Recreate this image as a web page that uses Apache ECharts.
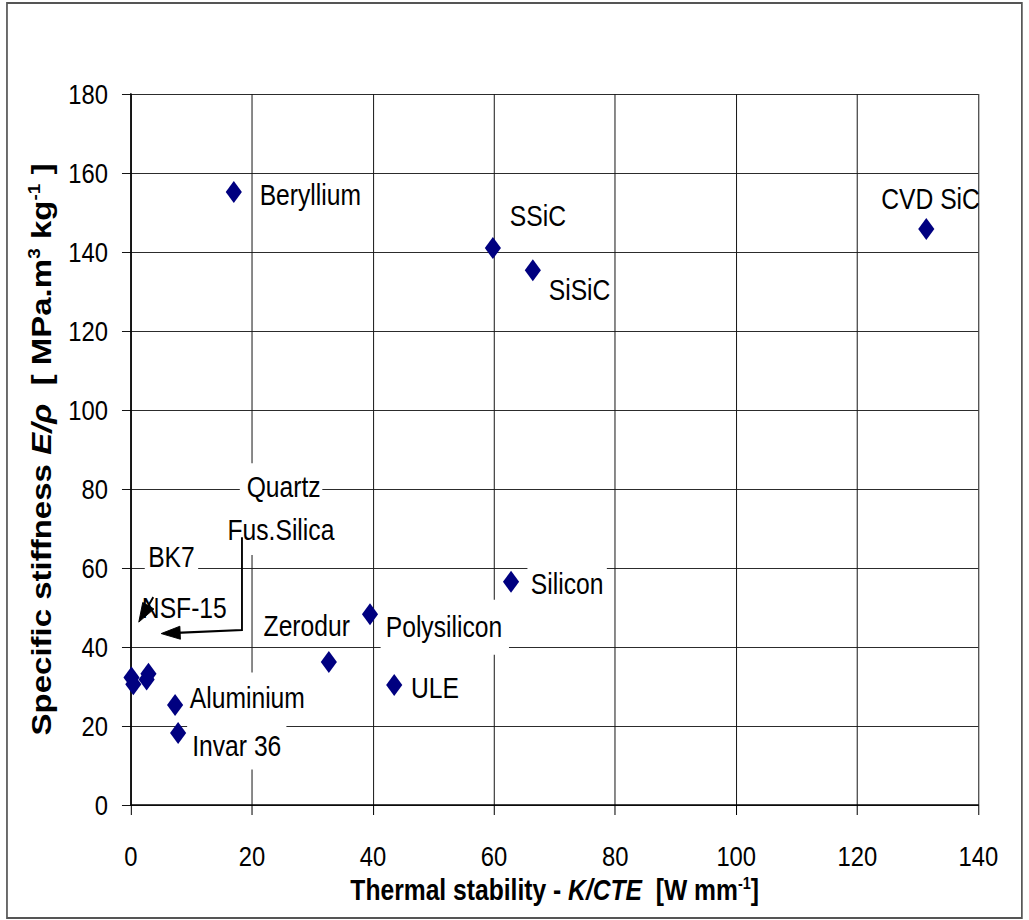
<!DOCTYPE html>
<html>
<head>
<meta charset="utf-8">
<title>Specific stiffness vs thermal stability</title>
<script src="https://cdn.jsdelivr.net/npm/echarts@6/dist/echarts.min.js"></script>
<style>
  html, body { margin: 0; padding: 0; background: #fff; }
  #frame { width: 1029px; height: 920px; overflow: hidden; position: relative; }
  /* the chart is laid out wide and condensed horizontally, giving narrow type and tall markers */
  #chart { width: 1211px; height: 920px; transform: scaleX(0.85); transform-origin: 0 0; }
</style>
</head>
<body>
<div id="frame"><div id="chart"></div></div>
<script>
// Materials: thermal stability K/CTE [W/mm] and specific stiffness E/rho [MPa m^3/kg]
const materials = ['Beryllium', 'SSiC', 'SiSiC', 'CVD SiC', 'Silicon', 'Polysilicon', 'Zerodur',
                   'ULE', 'Aluminium', 'Invar 36', 'Quartz', 'Fus.Silica', 'BK7', 'NSF-15'];
const thermalStability = [17, 59.8, 66.4, 131.4, 62.8, 39.5, 32.7, 43.5, 7.3, 7.8, 2.9, 2.6, 0.1, 0.4];
const specificStiffness = [155.2, 141, 135.4, 145.8, 56.5, 48.3, 36.2, 30.4, 25.3, 18.2, 33.2, 31.8, 32.3, 30.6];

// Axis ranges and tick spacing
const xRange = { min: 0, max: 140, step: 20 };
const yRange = { min: 0, max: 180, step: 20 };

// Leader arrows from the glass labels down to the cluster near the origin (data coordinates)
const arrowFusSilica = [[18.35, 67.8], [18.35, 44.3], [5.0, 43.4]];
const arrowBK7 = [[3.7, 52.6], [1.3, 46.3]];
const arrowPaths = [arrowFusSilica, arrowBK7];

const FONT = "'Liberation Sans', Arial, sans-serif";
const SX = 0.85; // horizontal condensing applied to the chart element

// Where each name sits relative to its marker, and whether it masks the grid behind it
const labelPlacement = {
  'Beryllium':   { offset: [90, 3] },
  'SSiC':        { offset: [53, -32] },
  'SiSiC':       { offset: [55, 20] },
  'CVD SiC':     { offset: [5, -30] },
  'Silicon':     { offset: [66, 2], box: [4, 4, 4, 4] },
  'Polysilicon': { offset: [88, 13], box: [14, 8, 12, 6] },
  'Zerodur':     { offset: [-26, -36], box: [4, 4, 4, 4] },
  'ULE':         { offset: [48, 3], box: [4, 4, 4, 4] },
  'Aluminium':   { offset: [85, -7], box: [12, 6, 10, 6] },
  'Invar 36':    { offset: [69, 13], box: [6, 6, 12, 6] },
  'Quartz':      { offset: [156, -187], box: [12, 2, 6, 8] },
  'Fus.Silica':  { offset: [158, -149], box: [8, 4, 12, 4] },
  'BK7':         { offset: [47, -120], box: [6, 4, 6, 4] },
  'NSF-15':      { offset: [60, -76] }
};

const points = materials.map((name, i) => {
  const p = labelPlacement[name];
  const label = { offset: p.offset };
  if (p.box) {
    label.backgroundColor = '#fff';
    label.padding = p.box;
  }
  return { name: name, value: [thermalStability[i], specificStiffness[i]], label: label };
});

// Polyline with a filled arrowhead at its last point; the head is shaped in displayed
// (condensed) space so it keeps its proportions.
function renderArrow(params, api) {
  const path = arrowPaths[params.dataIndex].map(c => api.coord(c));
  const n = path.length;
  const tip = path[n - 1], prev = path[n - 2];
  let dx = (tip[0] - prev[0]) * SX, dy = tip[1] - prev[1];
  const len = Math.hypot(dx, dy) || 1;
  dx /= len; dy /= len;
  const headLen = 19, headHalf = 6.5;
  const bx = tip[0] * SX - dx * headLen, by = tip[1] - dy * headLen;
  const p1 = [(bx - dy * headHalf) / SX, by + dx * headHalf];
  const p2 = [(bx + dy * headHalf) / SX, by - dx * headHalf];
  const linePts = path.slice(0, n - 1).concat([[(bx + dx * 4) / SX, by + dy * 4]]);
  return {
    type: 'group',
    children: [
      { type: 'polyline', shape: { points: linePts }, style: { stroke: '#000', lineWidth: 2.2, fill: null } },
      { type: 'polygon', shape: { points: [tip, p1, p2] }, style: { fill: '#000', stroke: '#000', lineWidth: 1 } }
    ]
  };
}

const chart = echarts.init(document.getElementById('chart'), null, { renderer: 'svg' });

chart.setOption({
  animation: false,
  backgroundColor: '#fff',
  textStyle: { fontFamily: FONT },
  grid: { left: 154, right: 60, top: 94, bottom: 115, containLabel: false },
  xAxis: {
    type: 'value',
    min: xRange.min, max: xRange.max, interval: xRange.step,
    name: 'Thermal stability - {i|K/CTE}  [W mm{sup|-1}]',
    nameLocation: 'middle',
    nameGap: 64,
    nameTextStyle: {
      fontFamily: FONT, fontWeight: 'bold', fontSize: 29, color: '#000',
      rich: {
        i: { fontFamily: FONT, fontWeight: 'bold', fontStyle: 'italic', fontSize: 29, color: '#000' },
        sup: { fontFamily: FONT, fontWeight: 'bold', fontSize: 17, color: '#000', verticalAlign: 'top', padding: [0, 0, 14, 0] }
      }
    },
    axisLine: { show: true, lineStyle: { color: '#000', width: 1.5 } },
    axisTick: { show: true, length: 10, lineStyle: { color: '#000', width: 1.2 } },
    axisLabel: { fontFamily: FONT, fontSize: 28, color: '#000', margin: 37 },
    splitLine: { show: true, lineStyle: { color: '#1a1a1a', width: 1.2 } }
  },
  yAxis: {
    type: 'value',
    min: yRange.min, max: yRange.max, interval: yRange.step,
    name: 'Specific stiffness {i|E/ρ}  [ MPa.m{sup|3} kg{sup|-1} ]',
    nameLocation: 'middle',
    nameRotate: 90,
    nameGap: 88,
    nameTextStyle: {
      fontFamily: FONT, fontWeight: 'bold', fontSize: 33, color: '#000',
      rich: {
        i: { fontFamily: FONT, fontWeight: 'bold', fontStyle: 'italic', fontSize: 33, color: '#000' },
        sup: { fontFamily: FONT, fontWeight: 'bold', fontSize: 19, color: '#000', verticalAlign: 'top', padding: [0, 0, 16, 0] }
      }
    },
    axisLine: { show: true, lineStyle: { color: '#000', width: 1.8 } },
    axisTick: { show: true, length: 10.5, lineStyle: { color: '#000', width: 1 } },
    axisLabel: { fontFamily: FONT, fontSize: 28, color: '#000', margin: 27 },
    splitLine: { show: true, lineStyle: { color: '#1a1a1a', width: 1 } }
  },
  series: [
    {
      type: 'scatter',
      symbol: 'diamond',
      symbolSize: [19, 22],
      itemStyle: { color: '#000080', opacity: 1 },
      z: 3,
      label: {
        show: true,
        position: 'inside',
        formatter: '{b}',
        fontFamily: FONT,
        fontSize: 29,
        color: '#000'
      },
      emphasis: { disabled: true },
      data: points
    },
    {
      type: 'custom',
      coordinateSystem: 'cartesian2d',
      z: 5,
      silent: true,
      renderItem: renderArrow,
      data: arrowPaths.map(p => p[p.length - 1])
    }
  ],
  graphic: [
    {
      type: 'rect',
      shape: { x: 8.2, y: 3, width: 1194, height: 915 },
      style: { fill: 'none', stroke: '#555', lineWidth: 2 },
      silent: true,
      z: 10
    }
  ]
});
</script>
</body>
</html>
